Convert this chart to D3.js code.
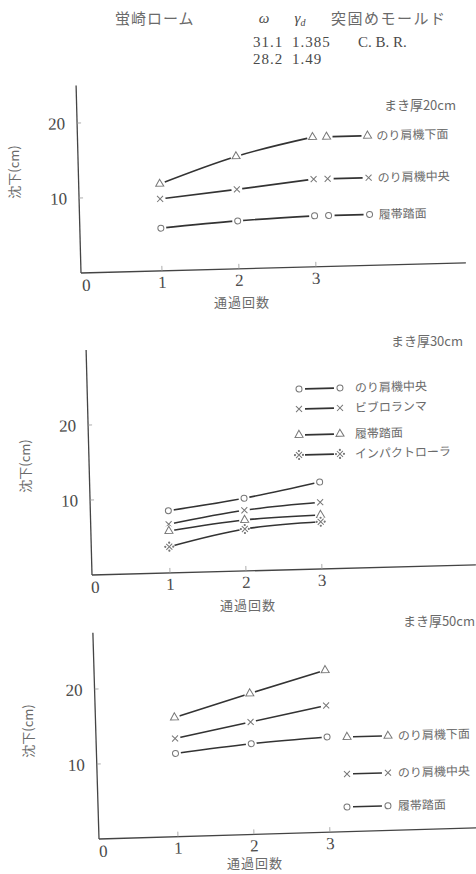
<!DOCTYPE html>
<html>
<head>
<meta charset="utf-8">
<script src="https://cdn.jsdelivr.net/npm/d3@7"></script>
<style>
  html, body { margin: 0; padding: 0; background: #fff; }
  svg { display: block; font-family: "Liberation Serif", "DejaVu Serif", "Noto Sans CJK JP", serif; }
  .jp { font-family: "Noto Sans CJK JP", sans-serif; fill: #6a6a6a; }
  .num { fill: #4a4a4a; }
</style>
</head>
<body>
<div id="chart"></div>
<script>
// --- data ---
const passes = [1, 2, 3];
const xTicks = [1, 2, 3];
const yTicks = [10, 20];

const soil = "蛍崎ローム";
const moisture = ["31.1", "28.2"];
const density = ["1.385", "1.49"];

// まき厚20cm
const t20Names = ["のり肩機下面", "のり肩機中央", "履帯踏面"];
const t20Tri = [11.6, 15.0, 17.3];
const t20Cross = [9.6, 10.6, 11.7];
const t20Circle = [5.7, 6.4, 6.8];

// まき厚30cm
const t30Names = ["のり肩機中央", "ビブロランマ", "履帯踏面", "インパクトローラ"];
const t30Circle = [8.3, 9.7, 11.6];
const t30Cross = [6.5, 8.1, 8.9];
const t30Tri = [5.6, 6.8, 7.2];
const t30Impact = [3.5, 5.6, 6.3];

// まき厚50cm
const t50Names = ["のり肩機下面", "のり肩機中央", "履帯踏面"];
const t50Tri = [15.9, 18.8, 21.6];
const t50Cross = [13.1, 15.0, 16.9];
const t50Circle = [11.1, 12.1, 12.7];

const W = 476, H = 874;
const ink = "#333", markInk = "#777", axisInk = "#444";

const svg = d3.select("#chart").append("svg")
  .attr("width", W).attr("height", H)
  .attr("viewBox", `0 0 ${W} ${H}`);

// header
const hdr = svg.append("g");
hdr.append("text").attr("class", "jp").attr("x", 115).attr("y", 24)
  .attr("font-size", 15).attr("letter-spacing", 1).text(soil);
hdr.append("text").attr("class", "num").attr("x", 264).attr("y", 23)
  .attr("font-size", 15).attr("font-style", "italic").attr("text-anchor", "middle").text("ω");
const g2 = hdr.append("text").attr("class", "num").attr("x", 300).attr("y", 23)
  .attr("font-size", 15).attr("font-style", "italic").attr("text-anchor", "middle");
g2.append("tspan").text("γ");
g2.append("tspan").attr("font-size", 10).attr("dy", 3).text("d");
hdr.append("text").attr("class", "jp").attr("x", 331).attr("y", 24)
  .attr("font-size", 15).attr("letter-spacing", 1.5).text("突固めモールド");
moisture.forEach((m, i) => {
  hdr.append("text").attr("class", "num").attr("x", 253).attr("y", 47 + i * 17)
    .attr("font-size", 15).attr("letter-spacing", 1).text(m);
  hdr.append("text").attr("class", "num").attr("x", 292).attr("y", 47 + i * 17)
    .attr("font-size", 15).attr("letter-spacing", 1).text(density[i]);
});
hdr.append("text").attr("class", "num").attr("x", 358).attr("y", 47)
  .attr("font-size", 15).attr("fill", "#666").text("C. B. R.");

// markers
function marker(g, type, cx, cy) {
  g.append("circle").attr("cx", cx).attr("cy", cy).attr("r", 5.5).attr("fill", "#fff");
  const s = g.append("g").attr("transform", `translate(${cx},${cy})`)
    .attr("fill", "none").attr("stroke", markInk).attr("stroke-width", 1);
  if (type === "circle") {
    s.append("circle").attr("r", 3);
  } else if (type === "tri") {
    s.append("path").attr("d", d3.symbol(d3.symbolTriangle, 28)());
  } else if (type === "cross") {
    s.append("path").attr("d", "M-3,-3L3,3M-3,3L3,-3");
  } else if (type === "impact") {
    s.append("path").attr("d", "M-3,-3L3,3M-3,3L3,-3");
    [[0, -4], [0, 4], [-4, 0], [4, 0]].forEach(p =>
      s.append("circle").attr("cx", p[0]).attr("cy", p[1]).attr("r", 0.6).attr("fill", markInk));
  }
}

function panel(cfg) {
  const a = cfg.angle * Math.PI / 180;
  const toLocal = (X, Y) => {
    const dx = X - cfg.ox, dy = Y - cfg.oy;
    return [dx * Math.cos(a) - dy * Math.sin(a), dx * Math.sin(a) + dy * Math.cos(a)];
  };
  const g = svg.append("g")
    .attr("transform", `translate(${cfg.ox},${cfg.oy}) rotate(${-cfg.angle})`);

  const x = d3.scaleLinear().domain([0, 1]).range([cfg.x0, cfg.x0 + cfg.unit]);
  const y = d3.scaleLinear().domain([0, 10]).range([0, -75]);

  // axes
  g.append("line").attr("x1", 0).attr("x2", cfg.xLen).attr("y1", 0).attr("y2", 0)
    .attr("stroke", axisInk).attr("stroke-width", 1.3);
  g.append("line").attr("x1", 0).attr("x2", 0).attr("y1", 0).attr("y2", y(cfg.yMax))
    .attr("stroke", axisInk).attr("stroke-width", 1.3);

  xTicks.forEach(t => {
    g.append("line").attr("x1", x(t)).attr("x2", x(t)).attr("y1", 0).attr("y2", -5)
      .attr("stroke", "#999").attr("stroke-width", 0.8);
    g.append("text").attr("class", "num").attr("x", x(t)).attr("y", 17)
      .attr("text-anchor", "middle").attr("font-size", 17).text(t);
  });
  g.append("text").attr("class", "num").attr("x", x(0) + 1).attr("y", 18)
    .attr("text-anchor", "middle").attr("font-size", 17).attr("fill", "#666").text("0");
  yTicks.forEach(t => {
    g.append("line").attr("x1", 0).attr("x2", 4).attr("y1", y(t)).attr("y2", y(t))
      .attr("stroke", "#999").attr("stroke-width", 0.8);
    g.append("text").attr("class", "num").attr("x", -12).attr("y", y(t) + 6)
      .attr("text-anchor", "end").attr("font-size", 17).text(t);
  });

  const line = d3.line().x((d, i) => x(passes[i])).y(d => y(d)).curve(d3.curveMonotoneX);
  cfg.series.forEach(s => {
    g.append("path").attr("d", line(s.values)).attr("fill", "none")
      .attr("stroke", ink).attr("stroke-width", 1.6);
  });
  cfg.series.forEach(s => {
    s.values.forEach((v, i) => marker(g, s.type, x(passes[i]), y(v)));
  });

  // legend
  cfg.series.forEach((s, i) => {
    let lx, rx, ly, tx;
    if (cfg.legend === "inline") {
      const last = s.values[s.values.length - 1];
      lx = x(3) + cfg.legDx[0]; rx = x(3) + cfg.legDx[1]; tx = x(3) + cfg.legDx[2];
      ly = y(last);
    } else {
      const p = toLocal(cfg.legX[0], cfg.legY[i]);
      lx = p[0]; ly = p[1];
      rx = toLocal(cfg.legX[1], cfg.legY[i])[0];
      tx = toLocal(cfg.legX[2], cfg.legY[i])[0];
    }
    g.append("line").attr("x1", lx + 6).attr("x2", rx - 6).attr("y1", ly).attr("y2", ly)
      .attr("stroke", ink).attr("stroke-width", 1.6);
    marker(g, s.type, lx, ly);
    marker(g, s.type, rx, ly);
    g.append("text").attr("class", "jp").attr("x", tx).attr("y", ly + 4.5)
      .attr("font-size", 12).text(s.name);
  });

  // title, axis labels
  svg.append("text").attr("class", "jp").attr("x", cfg.title[0]).attr("y", cfg.title[1])
    .attr("text-anchor", "end").attr("font-size", 13).text(cfg.titleText);
  svg.append("text").attr("class", "jp").attr("x", cfg.xLab[0]).attr("y", cfg.xLab[1])
    .attr("text-anchor", "middle").attr("font-size", 13).attr("letter-spacing", 1).text("通過回数");
  svg.append("text").attr("class", "jp")
    .attr("transform", `translate(${cfg.yLab[0]},${cfg.yLab[1]}) rotate(-90)`)
    .attr("text-anchor", "middle").attr("font-size", 13).text("沈下(cm)");
}

panel({
  ox: 81, oy: 273, angle: 1.5, x0: 4, unit: 77, xLen: 385, yMax: 25,
  series: [
    { type: "tri", values: t20Tri, name: t20Names[0] },
    { type: "cross", values: t20Cross, name: t20Names[1] },
    { type: "circle", values: t20Circle, name: t20Names[2] }
  ],
  legend: "inline", legDx: [14, 55, 64],
  titleText: "まき厚20cm", title: [456, 110], xLab: [242, 307], yLab: [19, 172]
});

panel({
  ox: 92, oy: 575, angle: 1.5, x0: 2, unit: 76, xLen: 384, yMax: 30,
  series: [
    { type: "circle", values: t30Circle, name: t30Names[0] },
    { type: "cross", values: t30Cross, name: t30Names[1] },
    { type: "tri", values: t30Tri, name: t30Names[2] },
    { type: "impact", values: t30Impact, name: t30Names[3] }
  ],
  legend: "fixed", legX: [299, 340, 355], legY: [389, 409, 435, 455],
  titleText: "まき厚30cm", title: [463, 346], xLab: [248, 610], yLab: [30, 466]
});

panel({
  ox: 99, oy: 839, angle: 1.7, x0: 3, unit: 76, xLen: 378, yMax: 27.5,
  series: [
    { type: "tri", values: t50Tri, name: t50Names[0] },
    { type: "cross", values: t50Cross, name: t50Names[1] },
    { type: "circle", values: t50Circle, name: t50Names[2] }
  ],
  legend: "fixed", legX: [347, 388, 398], legY: [737, 774, 807],
  titleText: "まき厚50cm", title: [475, 626], xLab: [255, 868], yLab: [33, 731]
});
</script>
</body>
</html>
